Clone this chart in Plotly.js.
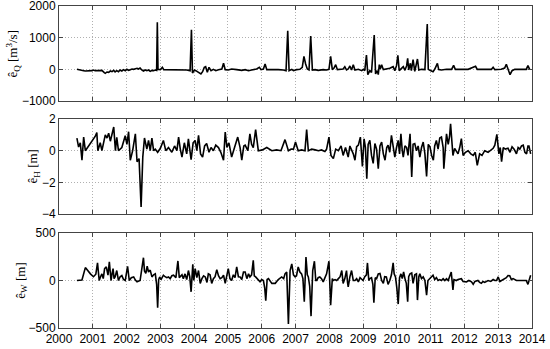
<!DOCTYPE html>
<html>
<head>
<meta charset="utf-8">
<script src="https://cdn.plot.ly/plotly-3.0.1.min.js"></script>
<style>
  body { margin: 0; background: #fff; }
  #graph { width: 550px; height: 349px; }
</style>
</head>
<body>
<div id="graph"></div>
<script>
// residuals of discharge Q, water level H and width W (decimal years)
var tQ = [2000.53,2000.63,2000.68,2000.73,2000.78,2000.88,2000.98,2001.02,2001.07,2001.17,
  2001.27,2001.34,2001.37,2001.42,2001.47,2001.52,2001.57,2001.62,2001.66,2001.71,
  2001.76,2001.81,2001.86,2001.91,2001.96,2002.01,2002.06,2002.11,2002.16,2002.21,
  2002.31,2002.35,2002.40,2002.45,2002.50,2002.55,2002.60,2002.65,2002.70,2002.75,
  2002.80,2002.85,2002.89,2002.91,2002.93,2003.00,2003.06,2003.10,2003.24,2003.44,
  2003.64,2003.78,2003.88,2003.92,2003.95,2004.01,2004.05,2004.13,2004.20,2004.25,
  2004.30,2004.34,2004.39,2004.44,2004.50,2004.57,2004.64,2004.72,2004.82,2004.87,
  2004.92,2005.01,2005.11,2005.26,2005.41,2005.51,2005.61,2005.70,2005.85,2005.93,
  2005.98,2006.05,2006.10,2006.15,2006.30,2006.49,2006.64,2006.72,2006.77,2006.81,
  2006.89,2006.94,2007.03,2007.13,2007.20,2007.25,2007.30,2007.35,2007.40,2007.45,
  2007.50,2007.58,2007.67,2007.82,2007.92,2007.99,2008.04,2008.09,2008.14,2008.19,
  2008.24,2008.32,2008.41,2008.46,2008.51,2008.56,2008.61,2008.66,2008.71,2008.76,
  2008.86,2008.96,2009.01,2009.05,2009.10,2009.14,2009.20,2009.25,2009.33,2009.37,
  2009.42,2009.45,2009.48,2009.51,2009.55,2009.60,2009.69,2009.79,2009.89,2009.94,
  2009.99,2010.03,2010.07,2010.14,2010.19,2010.24,2010.29,2010.32,2010.35,2010.40,
  2010.43,2010.48,2010.53,2010.61,2010.65,2010.73,2010.83,2010.90,2010.93,2010.98,
  2011.07,2011.12,2011.20,2011.24,2011.32,2011.47,2011.62,2011.68,2011.73,2011.91,
  2012.11,2012.33,2012.38,2012.60,2012.80,2012.85,2012.90,2013.09,2013.19,2013.24,
  2013.29,2013.35,2013.41,2013.49,2013.68,2013.83,2013.88,2013.93];
var eQ = [0,-10,-21,-42,-53,-53,-42,-21,-42,-42,
  -32,-105,-126,-84,-95,-53,-74,-32,-84,-42,
  -74,-21,-53,-10,-42,0,-32,-10,10,0,
  32,10,42,-21,-53,-21,-42,-21,-63,-32,
  -42,-21,-32,1485,0,-10,63,-10,-10,-21,
  0,-21,-42,1253,-116,-21,-42,-95,-147,-74,
  63,84,-95,63,-42,0,-42,-10,10,190,
  -10,-21,10,-10,-32,-10,-42,-21,10,63,
  -10,10,168,-10,0,-10,-21,-42,1221,-42,
  0,-42,-10,0,63,411,168,10,-21,1053,
  -21,-10,-32,-10,-21,0,411,-10,42,147,
  -10,0,10,84,-21,10,105,-21,147,-21,
  0,-42,0,-42,453,-168,-42,-95,1085,-147,
  -42,-168,147,10,147,-10,0,32,84,-42,
  116,442,-42,42,84,-32,116,347,-21,190,
  -42,305,-63,326,-21,0,-10,1432,0,-32,
  -74,0,190,-10,-21,0,0,126,0,0,
  0,95,0,0,0,63,-10,0,42,158,
  0,-168,-42,0,0,0,116,0];

var tH = [2000.53,2000.58,2000.63,2000.68,2000.73,2000.78,2001.07,2001.12,2001.15,2001.22,
  2001.27,2001.37,2001.42,2001.47,2001.52,2001.57,2001.62,2001.67,2001.71,2001.76,
  2001.86,2001.96,2002.01,2002.06,2002.11,2002.18,2002.26,2002.31,2002.37,2002.43,
  2002.48,2002.53,2002.60,2002.65,2002.70,2002.75,2002.80,2002.85,2002.92,2003.00,
  2003.09,2003.16,2003.24,2003.34,2003.42,2003.49,2003.54,2003.59,2003.64,2003.71,
  2003.78,2003.83,2003.91,2003.97,2004.03,2004.08,2004.13,2004.19,2004.25,2004.31,
  2004.37,2004.44,2004.50,2004.57,2004.64,2004.72,2004.79,2004.87,2004.92,2004.97,
  2005.03,2005.11,2005.19,2005.29,2005.36,2005.41,2005.47,2005.51,2005.59,2005.65,
  2005.70,2005.75,2005.82,2005.90,2006.02,2006.15,2006.30,2006.44,2006.57,2006.69,
  2006.79,2006.87,2006.94,2007.00,2007.08,2007.18,2007.28,2007.33,2007.38,2007.48,
  2007.58,2007.68,2007.77,2007.87,2007.92,2007.99,2008.05,2008.12,2008.19,2008.27,
  2008.35,2008.41,2008.48,2008.56,2008.61,2008.66,2008.71,2008.76,2008.81,2008.86,
  2008.92,2008.98,2009.03,2009.07,2009.11,2009.15,2009.20,2009.25,2009.30,2009.35,
  2009.40,2009.45,2009.50,2009.55,2009.60,2009.65,2009.70,2009.74,2009.79,2009.84,
  2009.89,2009.94,2009.99,2010.04,2010.08,2010.12,2010.16,2010.19,2010.24,2010.29,
  2010.33,2010.39,2010.44,2010.48,2010.53,2010.58,2010.63,2010.68,2010.73,2010.78,
  2010.83,2010.88,2010.93,2010.98,2011.03,2011.08,2011.12,2011.17,2011.22,2011.27,
  2011.32,2011.37,2011.39,2011.44,2011.47,2011.52,2011.56,2011.59,2011.64,2011.66,
  2011.71,2011.76,2011.81,2011.86,2011.91,2011.96,2012.03,2012.11,2012.19,2012.26,
  2012.32,2012.38,2012.45,2012.52,2012.60,2012.70,2012.80,2012.85,2012.90,2012.96,
  2013.02,2013.06,2013.10,2013.15,2013.21,2013.29,2013.35,2013.41,2013.47,2013.54,
  2013.59,2013.64,2013.69,2013.74,2013.79,2013.84,2013.88,2013.91,2013.96];
var eH = [0.8,0.23,0.5,-0.6,0.86,0,0.9,1.14,0,0.5,
  0,1.0,0.8,1.1,0.6,1.0,1.5,0,0.85,0,
  0.2,0.95,0.4,1.2,-0.6,0,1.07,-0.7,-0.5,-3.56,
  -0.4,0.8,0.1,0.65,0,0.8,0,0.1,-0.1,0.15,
  0.65,0,0.2,-0.1,0.3,0,0.86,0.1,-0.4,0.5,
  -0.2,0.75,-0.57,0.5,0.65,0,0.97,-0.2,-0.4,0.3,
  0.45,-0.1,0.2,0,0.35,0.2,-0.1,-0.6,1.18,0.2,
  0.5,-0.4,0.1,0.86,0.2,-0.6,0.3,0.35,0,1.07,
  0.4,0.2,1.33,0,0.05,0.2,0,0.05,0,0.7,
  0,0.1,0.1,0.55,0,0.05,0,1.33,0,0.1,
  0.05,0,0.05,-0.05,0.1,0.86,-0.3,-0.5,0.1,0,
  0.3,-0.3,0.2,-0.4,0.3,0.1,-0.2,-0.6,0.25,0.35,
  0.86,-1.0,0.75,0.2,-1.77,0.4,0.65,-0.3,-0.8,0.45,
  0.1,-1.14,0.3,0.55,-0.2,-0.6,0.2,0.35,-0.1,0.97,
  0.1,-0.4,0.2,0.65,-0.2,1.07,0,-0.4,0.3,0.2,
  -0.3,1.07,-1.66,0.4,0.45,0,0.3,-0.4,0.2,0.55,
  -0.2,-1.62,0.4,0.25,-0.3,-0.6,0.3,0.65,0.1,0.8,
  0.86,0.2,-1.14,0.5,1.07,0.4,0.9,1.7,0.1,-0.3,
  0.15,0,-0.2,0.2,0.76,-0.3,-0.1,0,-0.2,-0.3,
  -0.1,-0.93,-0.2,-0.3,0,-0.1,0.1,0.15,0.35,1.03,
  -0.2,0.2,-0.7,0.2,0.1,0.15,-0.1,0.25,0.1,-0.2,
  0.2,0.1,0.3,0.35,-0.1,-0.2,0.3,0.3,-0.2];

var tW = [2000.53,2000.63,2000.68,2000.78,2000.88,2000.93,2001.02,2001.09,2001.14,2001.19,
  2001.23,2001.27,2001.31,2001.35,2001.40,2001.45,2001.49,2001.54,2001.57,2001.60,
  2001.63,2001.66,2001.71,2001.76,2001.81,2001.86,2001.91,2001.96,2002.03,2002.08,
  2002.14,2002.21,2002.26,2002.31,2002.40,2002.50,2002.53,2002.57,2002.61,2002.65,
  2002.70,2002.75,2002.80,2002.85,2002.89,2002.92,2002.95,2002.98,2003.02,2003.09,
  2003.14,2003.19,2003.24,2003.29,2003.34,2003.39,2003.46,2003.52,2003.56,2003.59,
  2003.64,2003.68,2003.73,2003.78,2003.83,2003.87,2003.91,2003.96,2003.99,2004.03,
  2004.08,2004.13,2004.18,2004.23,2004.28,2004.33,2004.38,2004.42,2004.47,2004.52,
  2004.57,2004.62,2004.67,2004.72,2004.77,2004.82,2004.87,2004.92,2004.97,2005.01,
  2005.06,2005.11,2005.16,2005.21,2005.26,2005.31,2005.36,2005.41,2005.46,2005.51,
  2005.56,2005.61,2005.65,2005.70,2005.75,2005.78,2005.82,2005.90,2005.95,2006.00,
  2006.05,2006.09,2006.12,2006.16,2006.20,2006.30,2006.40,2006.49,2006.59,2006.65,
  2006.69,2006.74,2006.79,2006.84,2006.89,2006.94,2006.99,2007.03,2007.08,2007.13,
  2007.18,2007.22,2007.26,2007.31,2007.35,2007.38,2007.42,2007.46,2007.51,2007.56,
  2007.60,2007.63,2007.67,2007.72,2007.77,2007.82,2007.87,2007.92,2007.99,2008.04,
  2008.09,2008.12,2008.17,2008.22,2008.27,2008.32,2008.37,2008.39,2008.41,2008.46,
  2008.51,2008.54,2008.56,2008.61,2008.66,2008.71,2008.76,2008.81,2008.86,2008.91,
  2008.96,2009.00,2009.05,2009.10,2009.13,2009.17,2009.20,2009.25,2009.29,2009.32,
  2009.36,2009.40,2009.45,2009.50,2009.55,2009.60,2009.64,2009.69,2009.74,2009.79,
  2009.84,2009.89,2009.92,2009.96,2010.00,2010.04,2010.08,2010.12,2010.16,2010.20,
  2010.24,2010.28,2010.32,2010.35,2010.39,2010.44,2010.48,2010.53,2010.58,2010.61,
  2010.65,2010.68,2010.73,2010.78,2010.83,2010.88,2010.92,2010.97,2011.02,2011.07,
  2011.12,2011.17,2011.22,2011.27,2011.32,2011.37,2011.42,2011.47,2011.52,2011.57,
  2011.61,2011.66,2011.69,2011.76,2011.81,2011.91,2011.96,2012.06,2012.13,2012.21,
  2012.26,2012.31,2012.40,2012.45,2012.50,2012.55,2012.60,2012.70,2012.78,2012.85,
  2012.90,2012.95,2013.00,2013.05,2013.10,2013.17,2013.24,2013.29,2013.34,2013.39,
  2013.44,2013.54,2013.63,2013.73,2013.83,2013.88,2013.92,2013.96];
var eW = [0,0,5,136,90,70,40,66,185,0,
  40,70,20,126,143,56,196,0,70,126,
  20,38,105,0,40,52,10,0,150,0,
  30,38,5,-14,0,240,100,75,150,90,
  110,38,60,70,-40,-287,10,38,10,56,
  40,30,38,20,50,56,30,206,30,38,
  60,20,70,10,105,40,-119,171,0,126,
  30,105,-30,20,50,38,-20,70,60,-30,
  20,40,115,50,20,30,56,-30,40,126,
  20,0,60,30,143,40,38,10,90,90,
  20,70,38,60,213,50,38,10,-14,10,
  0,-80,-213,10,20,-30,-30,10,38,20,
  70,90,-458,105,175,60,38,50,143,90,
  70,20,-224,248,60,38,-60,-375,105,203,
  0,0,30,38,20,-14,40,70,203,-259,
  20,0,10,0,20,40,105,0,-30,20,
  105,-20,-66,38,105,0,0,20,-14,30,
  10,0,40,60,185,0,20,30,-40,-234,
  30,20,70,75,0,-30,40,38,-40,0,
  60,185,70,38,-80,-248,30,70,20,90,
  20,-30,-224,40,70,80,-30,60,70,-206,
  40,70,20,38,0,-154,0,20,40,56,
  10,30,0,10,0,20,0,20,0,40,
  90,-100,10,0,10,20,-10,-14,0,-14,
  -40,-10,0,-20,-30,-10,-20,0,-10,10,
  0,0,38,-10,0,10,30,52,50,10,
  20,0,0,0,0,-40,20,56];

var yearTicks = [2000,2001,2002,2003,2004,2005,2006,2007,2008,2009,2010,2011,2012,2013,2014];
var qTicks = [-1000, 0, 1000, 2000];
var hTicks = [-4, -2, 0, 2];
var wTicks = [-500, 0, 500];
var yLabels = ['ê<sub>Q</sub> [m<sup>3</sup>/s]', 'ê<sub>H</sub> [m]', 'ê<sub>W</sub> [m]'];

function lineTrace(x, y, xa, ya) {
  return {
    x: x, y: y, xaxis: xa, yaxis: ya,
    type: 'scatter', mode: 'lines',
    line: {color: '#000', width: 1.6},
    hoverinfo: 'skip'
  };
}

function xAxis(anchor, labels) {
  return {
    anchor: anchor,
    range: [2000, 2014.0001],
    tickvals: yearTicks,
    showticklabels: labels,
    ticks: 'inside', ticklen: 4, tickcolor: '#444',
    showline: true, linecolor: '#444', linewidth: 1, mirror: 'ticks',
    showgrid: true, gridcolor: '#b0b0b0', griddash: '1px,2px', gridwidth: 1,
    zeroline: false,
    tickfont: {size: 12, color: '#000'}
  };
}

function yAxis(anchor, domain, range, ticks) {
  return {
    anchor: anchor,
    domain: domain,
    range: range,
    tickvals: ticks,
    ticks: 'inside', ticklen: 4, tickcolor: '#444',
    showline: true, linecolor: '#444', linewidth: 1, mirror: 'ticks',
    showgrid: true, gridcolor: '#b0b0b0', griddash: '1px,2px', gridwidth: 1,
    zeroline: false,
    ticklabeloverflow: 'allow',
    tickfont: {size: 12, color: '#000'}
  };
}

// y labels placed like the original (each beside its own tick labels)
function yLabel(text, yref, x) {
  return {
    text: text, textangle: -90,
    xref: 'paper', yref: yref, x: x, y: 0.5,
    xanchor: 'center', yanchor: 'middle', showarrow: false,
    font: {family: 'Liberation Serif, serif', size: 13, color: '#000'}
  };
}

var data = [
  lineTrace(tQ, eQ, 'x', 'y'),
  lineTrace(tH, eH, 'x2', 'y2'),
  lineTrace(tW, eW, 'x3', 'y3')
];

var layout = {
  width: 550, height: 349,
  margin: {l: 59, r: 18, t: 6, b: 21},
  paper_bgcolor: '#fff', plot_bgcolor: '#fff',
  font: {family: 'Liberation Sans, Arial, sans-serif', size: 12, color: '#000'},
  showlegend: false,
  xaxis: xAxis('y', false),
  xaxis2: xAxis('y2', false),
  xaxis3: xAxis('y3', true),
  yaxis: yAxis('x', [0.705, 1], [-1000, 2000.5], qTicks),
  yaxis2: yAxis('x2', [0.354, 0.649], [-4, 2.001], hTicks),
  yaxis3: yAxis('x3', [0, 0.295], [-500, 500.2], wTicks),
  annotations: [
    yLabel(yLabels[0], 'y domain', -0.097),
    yLabel(yLabels[1], 'y2 domain', -0.053),
    yLabel(yLabels[2], 'y3 domain', -0.080)
  ]
};

Plotly.newPlot('graph', data, layout, {staticPlot: true, displayModeBar: false});
</script>
</body>
</html>
